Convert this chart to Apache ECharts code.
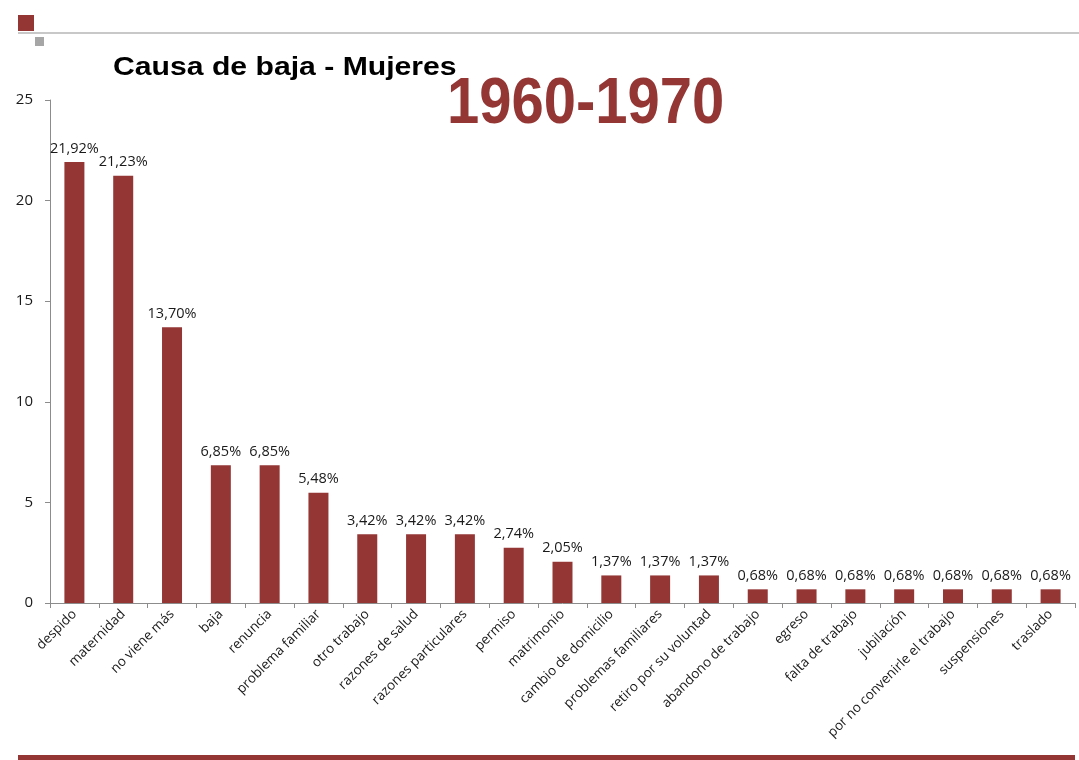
<!DOCTYPE html>
<html>
<head>
<meta charset="utf-8">
<script src="https://cdn.jsdelivr.net/npm/echarts@6/dist/echarts.min.js"></script>
<style>
html,body{margin:0;padding:0;background:#fff;}
#chart{width:1079px;height:760px;}
</style>
</head>
<body>
<div id="chart"></div>
<script>
var categories = ['despido','maternidad','no viene más','baja','renuncia','problema familiar','otro trabajo','razones de salud','razones particulares','permiso','matrimonio','cambio de domicilio','problemas familiares','retiro por su voluntad','abandono de trabajo','egreso','falta de trabajo','jubilación','por no convenirle el trabajo','suspensiones','traslado'];
var values = [21.92,21.23,13.70,6.85,6.85,5.48,3.42,3.42,3.42,2.74,2.05,1.37,1.37,1.37,0.68,0.68,0.68,0.68,0.68,0.68,0.68];
var yTicks = [0,5,10,15,20,25];
var titleText = 'Causa de baja - Mujeres';
var periodText = '1960-1970';

var barColor = '#933634';
var chart = echarts.init(document.getElementById('chart'));
chart.setOption({
  animation: false,
  backgroundColor: '#ffffff',
  grid: {left: 50, right: 4, top: 100, bottom: 157},
  xAxis: {
    type: 'category',
    data: categories,
    axisLine: {lineStyle: {color: '#8c8c8c', width: 1}},
    axisTick: {show: true, length: 5, inside: false, lineStyle: {color: '#8c8c8c'}},
    axisLabel: {rotate: 45, interval: 0, fontFamily: 'Open Sans, Lato, sans-serif', fontSize: 13.5, color: '#1a1a1a', margin: 9}
  },
  yAxis: {
    type: 'value',
    min: yTicks[0], max: yTicks[yTicks.length-1], interval: 5,
    splitLine: {show: false},
    axisLine: {show: true, lineStyle: {color: '#8c8c8c', width: 1}},
    axisTick: {show: true, length: 5, lineStyle: {color: '#8c8c8c'}},
    axisLabel: {fontFamily: 'Open Sans, Lato, sans-serif', fontSize: 15, color: '#1a1a1a', margin: 17}
  },
  series: [{
    type: 'bar',
    data: values,
    barWidth: 20,
    itemStyle: {color: barColor},
    label: {
      show: true, position: 'top', distance: 6,
      fontFamily: 'Open Sans, Lato, sans-serif', fontSize: 14.5, color: '#1a1a1a',
      formatter: function(p){ return p.value.toFixed(2).replace('.', ',') + '%'; }
    }
  }],
  graphic: [
    {type: 'rect', shape: {x: 18, y: 15, width: 16, height: 16}, style: {fill: barColor}},
    {type: 'rect', shape: {x: 35, y: 37, width: 9, height: 9}, style: {fill: '#a6a6a6'}},
    {type: 'line', shape: {x1: 18, y1: 33, x2: 1079, y2: 33}, style: {stroke: '#c8c8c8', lineWidth: 2}},
    {type: 'text', x: 113, y: 67.5, scaleX: 1.16, originX: 0, originY: 0,
      style: {text: titleText, font: 'bold 26px "Liberation Sans", Arial, sans-serif', fill: '#000', verticalAlign: 'middle'}},
    {type: 'text', x: 447, y: 105, scaleY: 1.13, originX: 0, originY: 0,
      style: {text: periodText, font: 'bold 58px "Liberation Sans", Arial, sans-serif', fill: barColor, verticalAlign: 'middle'}},
    {type: 'rect', shape: {x: 18, y: 755, width: 1057, height: 10}, style: {fill: barColor}}
  ]
});
</script>
</body>
</html>
